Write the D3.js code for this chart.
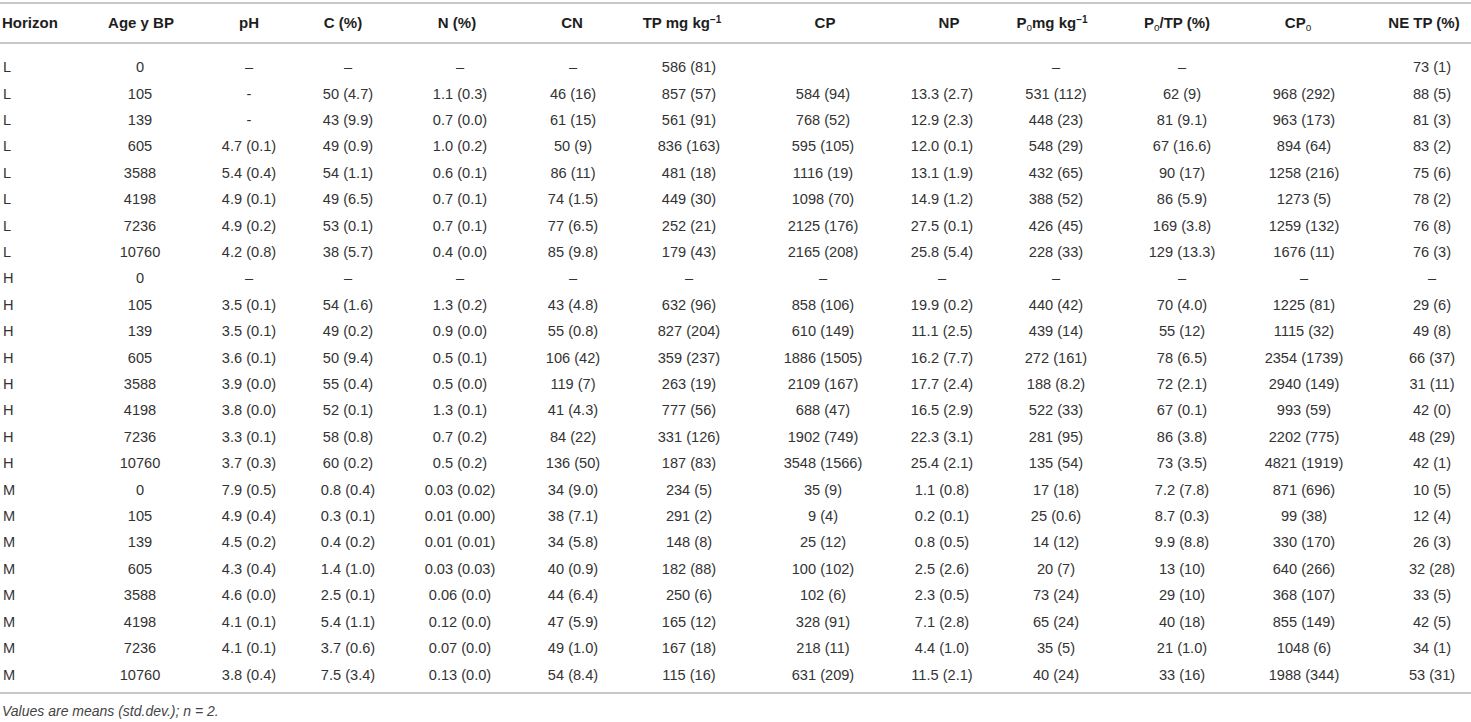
<!DOCTYPE html>
<html>
<head>
<meta charset="utf-8">
<script src="https://cdn.jsdelivr.net/npm/d3@7/dist/d3.min.js"></script>
<style>
  html, body { margin: 0; padding: 0; background: #fff; }
  svg { display: block; }
</style>
</head>
<body>
<script>
// ---------------- DATA ----------------
const horizons = ["L","L","L","L","L","L","L","L","H","H","H","H","H","H","H","H","M","M","M","M","M","M","M","M"];
const ages     = ["0","105","139","605","3588","4198","7236","10760","0","105","139","605","3588","4198","7236","10760","0","105","139","605","3588","4198","7236","10760"];
const pH   = ["–","-","-","4.7 (0.1)","5.4 (0.4)","4.9 (0.1)","4.9 (0.2)","4.2 (0.8)","–","3.5 (0.1)","3.5 (0.1)","3.6 (0.1)","3.9 (0.0)","3.8 (0.0)","3.3 (0.1)","3.7 (0.3)","7.9 (0.5)","4.9 (0.4)","4.5 (0.2)","4.3 (0.4)","4.6 (0.0)","4.1 (0.1)","4.1 (0.1)","3.8 (0.4)"];
const Cpct = ["–","50 (4.7)","43 (9.9)","49 (0.9)","54 (1.1)","49 (6.5)","53 (0.1)","38 (5.7)","–","54 (1.6)","49 (0.2)","50 (9.4)","55 (0.4)","52 (0.1)","58 (0.8)","60 (0.2)","0.8 (0.4)","0.3 (0.1)","0.4 (0.2)","1.4 (1.0)","2.5 (0.1)","5.4 (1.1)","3.7 (0.6)","7.5 (3.4)"];
const Npct = ["–","1.1 (0.3)","0.7 (0.0)","1.0 (0.2)","0.6 (0.1)","0.7 (0.1)","0.7 (0.1)","0.4 (0.0)","–","1.3 (0.2)","0.9 (0.0)","0.5 (0.1)","0.5 (0.0)","1.3 (0.1)","0.7 (0.2)","0.5 (0.2)","0.03 (0.02)","0.01 (0.00)","0.01 (0.01)","0.03 (0.03)","0.06 (0.0)","0.12 (0.0)","0.07 (0.0)","0.13 (0.0)"];
const CN   = ["–","46 (16)","61 (15)","50 (9)","86 (11)","74 (1.5)","77 (6.5)","85 (9.8)","–","43 (4.8)","55 (0.8)","106 (42)","119 (7)","41 (4.3)","84 (22)","136 (50)","34 (9.0)","38 (7.1)","34 (5.8)","40 (0.9)","44 (6.4)","47 (5.9)","49 (1.0)","54 (8.4)"];
const TP   = ["586 (81)","857 (57)","561 (91)","836 (163)","481 (18)","449 (30)","252 (21)","179 (43)","–","632 (96)","827 (204)","359 (237)","263 (19)","777 (56)","331 (126)","187 (83)","234 (5)","291 (2)","148 (8)","182 (88)","250 (6)","165 (12)","167 (18)","115 (16)"];
const CP   = ["","584 (94)","768 (52)","595 (105)","1116 (19)","1098 (70)","2125 (176)","2165 (208)","–","858 (106)","610 (149)","1886 (1505)","2109 (167)","688 (47)","1902 (749)","3548 (1566)","35 (9)","9 (4)","25 (12)","100 (102)","102 (6)","328 (91)","218 (11)","631 (209)"];
const NP   = ["","13.3 (2.7)","12.9 (2.3)","12.0 (0.1)","13.1 (1.9)","14.9 (1.2)","27.5 (0.1)","25.8 (5.4)","–","19.9 (0.2)","11.1 (2.5)","16.2 (7.7)","17.7 (2.4)","16.5 (2.9)","22.3 (3.1)","25.4 (2.1)","1.1 (0.8)","0.2 (0.1)","0.8 (0.5)","2.5 (2.6)","2.3 (0.5)","7.1 (2.8)","4.4 (1.0)","11.5 (2.1)"];
const Po   = ["–","531 (112)","448 (23)","548 (29)","432 (65)","388 (52)","426 (45)","228 (33)","–","440 (42)","439 (14)","272 (161)","188 (8.2)","522 (33)","281 (95)","135 (54)","17 (18)","25 (0.6)","14 (12)","20 (7)","73 (24)","65 (24)","35 (5)","40 (24)"];
const PoTP = ["–","62 (9)","81 (9.1)","67 (16.6)","90 (17)","86 (5.9)","169 (3.8)","129 (13.3)","–","70 (4.0)","55 (12)","78 (6.5)","72 (2.1)","67 (0.1)","86 (3.8)","73 (3.5)","7.2 (7.8)","8.7 (0.3)","9.9 (8.8)","13 (10)","29 (10)","40 (18)","21 (1.0)","33 (16)"];
const CPo  = ["","968 (292)","963 (173)","894 (64)","1258 (216)","1273 (5)","1259 (132)","1676 (11)","–","1225 (81)","1115 (32)","2354 (1739)","2940 (149)","993 (59)","2202 (775)","4821 (1919)","871 (696)","99 (38)","330 (170)","640 (266)","368 (107)","855 (149)","1048 (6)","1988 (344)"];
const NETP = ["73 (1)","88 (5)","81 (3)","83 (2)","75 (6)","78 (2)","76 (8)","76 (3)","–","29 (6)","49 (8)","66 (37)","31 (11)","42 (0)","48 (29)","42 (1)","10 (5)","12 (4)","26 (3)","32 (28)","33 (5)","42 (5)","34 (1)","53 (31)"];

// header labels: arrays of [text, kind] pieces (kind: n normal, sub, sup)
const headers = [
  [["Horizon","n"]],
  [["Age y BP","n"]],
  [["pH","n"]],
  [["C (%)","n"]],
  [["N (%)","n"]],
  [["CN","n"]],
  [["TP mg kg","n"],["−1","sup"]],
  [["CP","n"]],
  [["NP","n"]],
  [["P","n"],["o","sub"],["mg kg","n"],["−1","sup"]],
  [["P","n"],["o","sub"],["/TP (%)","n"]],
  [["CP","n"],["o","sub"]],
  [["NE TP (%)","n"]]
];
const footnote = "Values are means (std.dev.); n = 2.";

const columns = [horizons, ages, pH, Cpct, Npct, CN, TP, CP, NP, Po, PoTP, CPo, NETP];

// ---------------- LAYOUT ----------------
const W = 1471, H = 722;
const colKeys = d3.range(columns.length);
const valueX  = d3.scaleOrdinal().domain(colKeys).range([3, 140, 249, 348, 460, 573, 689, 823, 942, 1056, 1182, 1304, 1432]);
const headerX = d3.scaleOrdinal().domain(colKeys).range([2, 141, 249, 343, 457, 572, 682, 825, 949, 1052, 1177, 1298, 1424]);
const rowY = d3.scaleLinear().domain([0, horizons.length - 1]).range([67, 674.4]);

const svg = d3.select("body").append("svg").attr("width", W).attr("height", H)
  .style("font-family", "'Liberation Sans', Arial, Helvetica, sans-serif");

const lineColor = "#b4b4b4";
[3, 43, 693].forEach(y => {
  svg.append("line").attr("x1", 0).attr("x2", W).attr("y1", y).attr("y2", y)
    .attr("stroke", lineColor).attr("stroke-width", 1.6);
});

// header
const hdr = svg.append("g").selectAll("text").data(headers).join("text")
  .attr("x", (d, i) => headerX(i))
  .attr("y", 23)
  .attr("dy", "0.35em")
  .attr("text-anchor", (d, i) => i === 0 ? "start" : "middle")
  .attr("font-weight", "bold")
  .attr("font-size", 15)
  .attr("fill", "#1e1e1e");
hdr.each(function(parts) {
  const t = d3.select(this);
  parts.forEach(([txt, kind]) => {
    const ts = t.append("tspan").text(txt);
    if (kind === "sup") ts.attr("font-size", 10).attr("baseline-shift", "5");
    if (kind === "sub") ts.attr("font-size", 10).attr("font-weight", "normal").attr("baseline-shift", "-3");
  });
});

// body
const cells = [];
columns.forEach((col, c) => col.forEach((v, r) => cells.push({c, r, v})));
svg.append("g").selectAll("text").data(cells).join("text")
  .attr("x", d => valueX(d.c))
  .attr("y", d => rowY(d.r))
  .attr("dy", "0.35em")
  .attr("text-anchor", d => d.c === 0 ? "start" : "middle")
  .attr("font-size", 14.6)
  .attr("fill", "#333")
  .text(d => d.v);

// footnote
svg.append("text").attr("x", 2).attr("y", 711).attr("dy", "0.35em")
  .attr("font-size", 14).attr("font-style", "italic").attr("fill", "#444")
  .text(footnote);
</script>
</body>
</html>
